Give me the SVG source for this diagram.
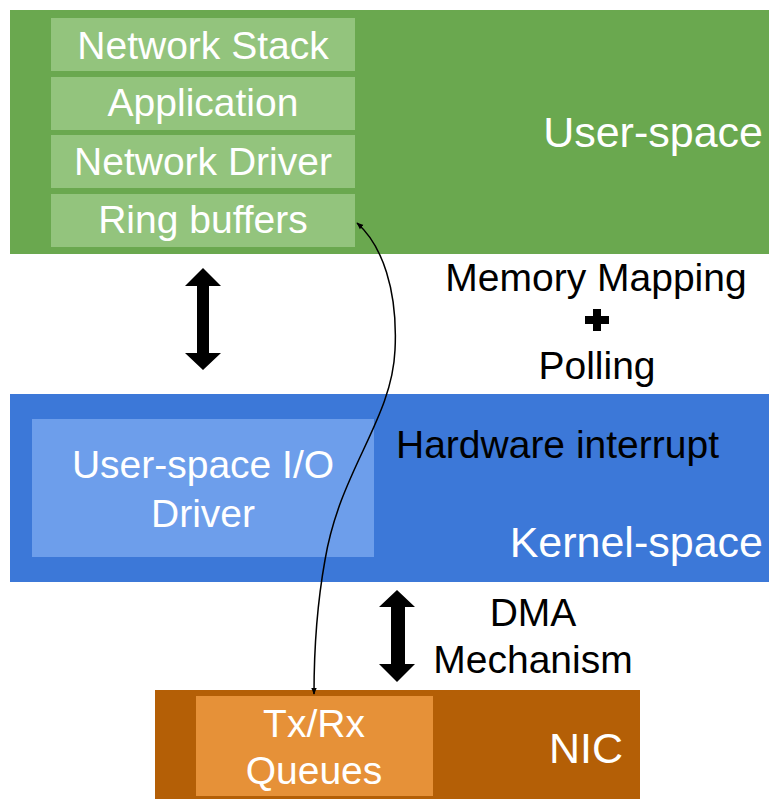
<svg xmlns="http://www.w3.org/2000/svg" width="769" height="799" viewBox="0 0 769 799">
<style>
.w{fill:#fff;font-family:"Liberation Sans",Arial,sans-serif;font-size:39px;text-anchor:middle}
.b{fill:#000;font-family:"Liberation Sans",Arial,sans-serif;font-size:39px;text-anchor:middle}
.big{fill:#fff;font-family:"Liberation Sans",Arial,sans-serif;font-size:43px;text-anchor:end}
.lg{fill:#93c47d}
.dbl{fill:#000}
</style>
<defs>
<marker id="ah" viewBox="0 0 10 10" refX="9" refY="5" markerWidth="7" markerHeight="7" orient="auto-start-reverse" markerUnits="userSpaceOnUse"><path d="M0,1 L10,5 L0,9 z" fill="#000"/></marker>
</defs>
<g id="user-space">
<rect x="10" y="10" width="759" height="244" fill="#6aa84f"/>
<text class="big" x="763" y="147">User-space</text>
</g>
<g id="network-stack"><rect class="lg" x="51" y="18" width="304" height="53"/><text class="w" x="203" y="59">Network Stack</text></g>
<g id="application"><rect class="lg" x="51" y="77" width="304" height="53"/><text class="w" x="203" y="116">Application</text></g>
<g id="network-driver"><rect class="lg" x="51" y="135" width="304" height="53"/><text class="w" x="203" y="175">Network Driver</text></g>
<g id="ring-buffers"><rect class="lg" x="51" y="194" width="304" height="53"/><text class="w" x="203" y="233">Ring buffers</text></g>
<g id="kernel-space">
<rect x="10" y="394" width="759" height="188" fill="#3c78d8"/>
<text class="b" x="396" y="458" style="text-anchor:start">Hardware interrupt</text>
<text class="big" x="763" y="557">Kernel-space</text>
</g>
<g id="uio-driver"><rect x="32" y="419" width="342" height="138" fill="#6d9eeb"/><text class="w" x="203" y="478">User-space I/O</text><text class="w" x="203" y="527">Driver</text></g>
<g id="nic">
<rect x="155" y="690" width="485" height="109" fill="#b45f06"/>
<text class="big" x="623" y="763">NIC</text>
</g>
<g id="txrx-queues"><rect x="196" y="696" width="237" height="100" fill="#e69138"/><text class="w" x="314" y="737">Tx/Rx</text><text class="w" x="314" y="784">Queues</text></g>
<g id="labels">
<text class="b" x="596" y="291">Memory Mapping</text>
<path d="M593,309 h8 v7 h8 v8 h-8 v7 h-8 v-7 h-8 v-8 h8 z" fill="#000"/>
<text class="b" x="597" y="379">Polling</text>
<text class="b" x="533" y="626">DMA</text>
<text class="b" x="533" y="673">Mechanism</text>
</g>
<g id="connectors">
<path class="dbl" d="M203,268 L221,286 L209,286 L209,353 L221,353 L203,370 L185,353 L197,353 L197,286 L185,286 z"/>
<path class="dbl" d="M397,590 L415,607 L405,607 L405,664 L415,664 L397,682 L379,664 L391,664 L391,607 L379,607 z"/>
<path d="M314,694 C314,650 316,610 325,560 C340,470 392,420 395,350 C398,290 382,245 357,223" fill="none" stroke="#000" stroke-width="1.5" marker-start="url(#ah)" marker-end="url(#ah)"/>
</g>
</svg>
